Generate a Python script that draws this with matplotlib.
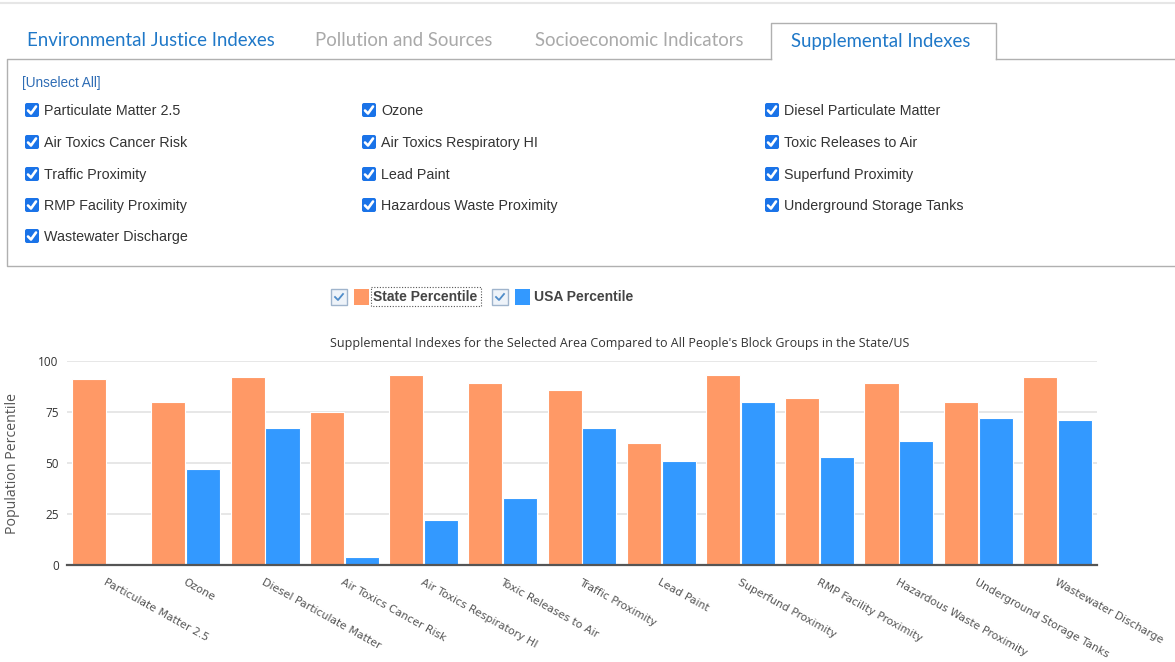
import matplotlib
matplotlib.use('Agg')
import matplotlib.pyplot as plt
from matplotlib.patches import Rectangle, FancyBboxPatch
import numpy as np

categories = ['Particulate Matter 2.5', 'Ozone', 'Diesel Particulate Matter',
              'Air Toxics Cancer Risk', 'Air Toxics Respiratory HI',
              'Toxic Releases to Air', 'Traffic Proximity', 'Lead Paint',
              'Superfund Proximity', 'RMP Facility Proximity',
              'Hazardous Waste Proximity', 'Underground Storage Tanks',
              'Wastewater Discharge']
state_pct = [91, 80, 92, 75, 93, 89, 86, 60, 93, 82, 89, 80, 92]
usa_pct = [np.nan, 47, 67, 4, 22, 33, 67, 51, 80, 53, 61, 72, 71]
tabs = ['Environmental Justice Indexes', 'Pollution and Sources',
        'Socioeconomic Indicators', 'Supplemental Indexes']
y_ticks = [0, 25, 50, 75, 100]
series_names = ['State Percentile', 'USA Percentile']

ORANGE = '#ff9966'
BLUE = '#3399ff'
W, H = 1175, 662

fig = plt.figure(figsize=(W / 100, H / 100), dpi=100)

# page elements drawn in pixel coordinates
ui = fig.add_axes([0, 0, 1, 1])
ui.set_xlim(0, W)
ui.set_ylim(H, 0)
ui.axis('off')

ui.plot([0, W], [3, 3], color='#e6e6e6', lw=1.5)

# tabs
tab_x = [27, 315, 535, 791]
tab_col = ['#1f78c8', '#a9a9a9', '#a9a9a9', '#1f78c8']
for name, x, c in zip(tabs, tab_x, tab_col):
    ui.text(x, 41, name, color=c, fontsize=13.4, family='Lato', va='center', ha='left')
ui.plot([771, 771, 996, 996], [59, 23, 23, 59], color='#b0b0b0', lw=1)

# checkbox panel
ui.plot([W + 5, 996], [59, 59], color='#b0b0b0', lw=1)
ui.plot([771, 7, 7, W + 5], [59, 59, 266, 266], color='#b0b0b0', lw=1)
ui.text(22, 83, '[Unselect All]', color='#2f6db5', fontsize=9.8,
        family='Liberation Sans', va='center')

col_x = [25, 362, 765]
row_y = [110, 142, 174, 205, 236]
for i, name in enumerate(categories):
    cx = col_x[i % 3]
    cy = row_y[i // 3]
    box = FancyBboxPatch((cx, cy - 7), 14, 14, boxstyle='round,pad=0,rounding_size=2',
                         fc='#1a73e8', ec='none')
    ui.add_patch(box)
    ui.plot([cx + 3, cx + 6, cx + 11], [cy + 0.5, cy + 3.5, cy - 3.5],
            color='white', lw=1.9, solid_capstyle='round')
    ui.text(cx + 19, cy + 1, name, color='#333333', fontsize=10.3,
            family='Liberation Sans', va='center')

# legend
leg_y = 297
for lx, col, name in [(331, ORANGE, series_names[0]), (492, BLUE, series_names[1])]:
    ui.add_patch(Rectangle((lx, leg_y - 8), 16, 16, fc='#eef3f9', ec='#9fb4cc', lw=1))
    ui.plot([lx + 4, lx + 7, lx + 12], [leg_y, leg_y + 3, leg_y - 3],
            color='#4f8cc9', lw=1.3)
    ui.add_patch(Rectangle((lx + 23, leg_y - 8), 15, 16, fc=col, ec='none'))
    ui.text(lx + 42, leg_y, name, color='#444444', fontsize=10,
            family='Liberation Sans', weight='bold', va='center')
ui.add_patch(Rectangle((371, leg_y - 10), 110, 19, fc='none', ec='#555555',
                       lw=0.8, ls=(0, (1, 1.5))))

# title and y label
ui.text(620, 344, "Supplemental Indexes for the Selected Area Compared to All People's "
        "Block Groups in the State/US", ha='center', va='center',
        fontsize=9, family='Open Sans', color='#333333')
ui.text(13, 463, 'Population Percentile', rotation=90, ha='center', va='center',
        fontsize=10.2, family='Open Sans', color='#555555')

# chart
left, right, top, bottom = 67, 1097, 361, 565
ax = fig.add_axes([left / W, 1 - bottom / H, (right - left) / W, (bottom - top) / H])
ax.set_facecolor('none')
x = np.arange(len(categories))
ax.bar(x - 0.22, state_pct, width=0.43, color=ORANGE, edgecolor='white', lw=0.8, zorder=3)
usa_x = [xi for xi, v in zip(x, usa_pct) if not np.isnan(v)]
usa_v = [v for v in usa_pct if not np.isnan(v)]
ax.bar(np.array(usa_x) + 0.22, usa_v, width=0.43, color=BLUE, edgecolor='white', lw=0.8, zorder=3)

ax.set_xlim(-0.5, len(categories) - 0.5)
ax.set_ylim(0, 100)
ax.set_yticks(y_ticks)
ax.set_yticklabels([str(v) for v in y_ticks], family='Open Sans', fontsize=8.5, color='#333333')
ax.tick_params(axis='y', length=0, pad=6)
ax.set_xticks(x)
ax.set_xticklabels(categories, rotation=-29, ha='left', va='top', rotation_mode='anchor',
                   family='DejaVu Sans', fontsize=7.8, color='#555555')
ax.tick_params(axis='x', length=0, pad=9)
ax.grid(axis='y', color='#e3e3e3', lw=1.2, zorder=0)
for s in ['top', 'right', 'left']:
    ax.spines[s].set_visible(False)
ax.spines['bottom'].set_color('#555555')
ax.spines['bottom'].set_linewidth(1.6)
ax.spines['bottom'].set_zorder(4)

fig.savefig('out.png', dpi=100)
